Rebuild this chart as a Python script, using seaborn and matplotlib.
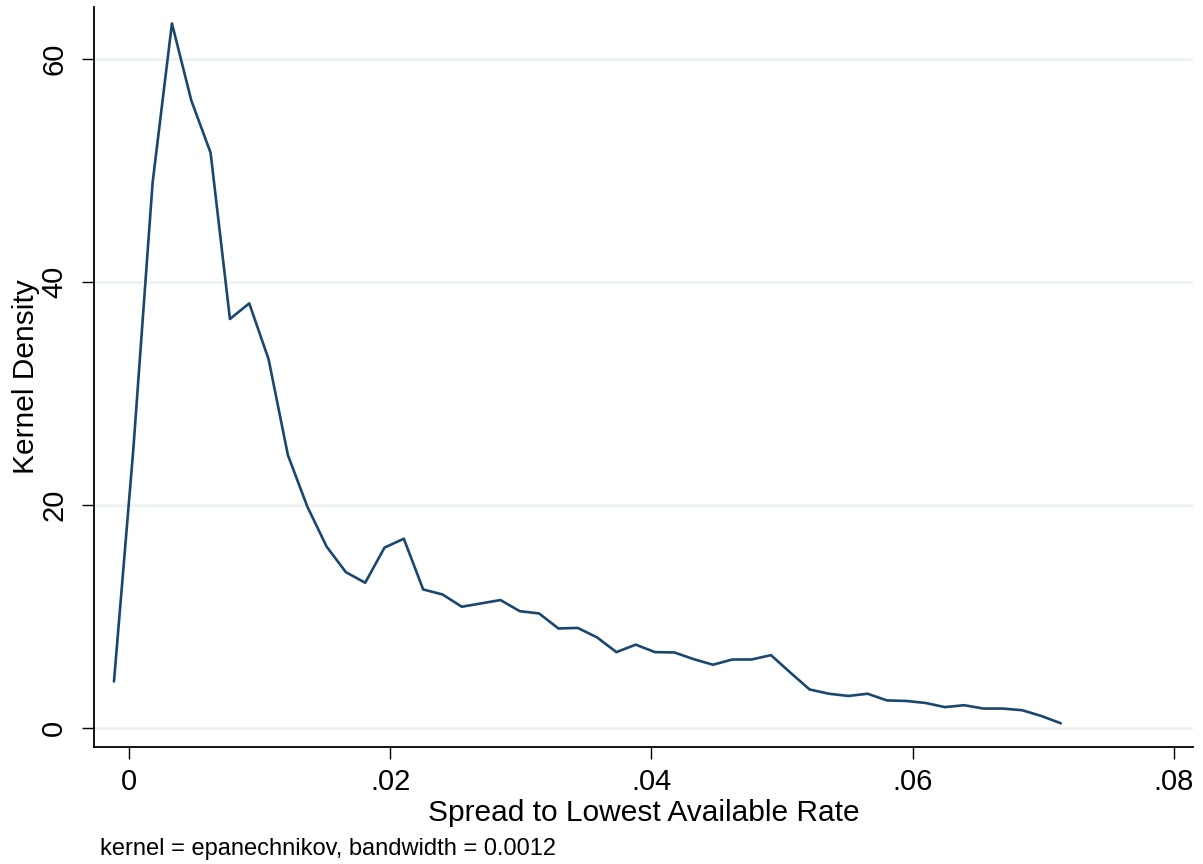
import numpy as np
import pandas as pd
import matplotlib
matplotlib.use("Agg")
import matplotlib.pyplot as plt
import seaborn as sns

# Evaluation grid (50 points, Stata kdensity default)
x_start = -0.00115
x_end = 0.07134
density = [4.2, 25.0, 48.95, 63.2, 56.3, 51.6, 36.7, 38.1, 33.1, 24.5,
           19.9, 16.3, 14.0, 13.05, 16.2, 17.0, 12.45, 12.0, 10.9, 11.2,
           11.5, 10.5, 10.3, 8.95, 9.0, 8.15, 6.83, 7.5, 6.83, 6.8,
           6.2, 5.7, 6.17, 6.17, 6.56, 5.0, 3.48, 3.1, 2.9, 3.1,
           2.5, 2.45, 2.27, 1.9, 2.07, 1.77, 1.77, 1.62, 1.1, 0.45]
x_ticks = [0, 0.02, 0.04, 0.06, 0.08]
x_tick_labels = ["0", ".02", ".04", ".06", ".08"]
y_ticks = [0, 20, 40, 60]
y_tick_labels = ["0", "20", "40", "60"]

spread = np.linspace(x_start, x_end, len(density))
df = pd.DataFrame({"spread": spread, "density": density})

sns.set_theme(style="white")
plt.rcParams['font.family'] = ['Liberation Sans', 'DejaVu Sans']

fig = plt.figure(figsize=(12.03, 8.64), dpi=100)
ax = fig.add_axes([94/1203, 1 - 746.7/864, (1193-94)/1203, (746.7-6.7)/864])

sns.lineplot(data=df, x="spread", y="density", ax=ax, color="#1a476f", linewidth=1.9)

ax.set_xlim(-0.00268, 0.08146)
ax.set_ylim(-1.65, 64.7)
ax.set_xticks(x_ticks)
ax.set_xticklabels(x_tick_labels, fontsize=21)
ax.set_yticks(y_ticks)
ax.set_yticklabels(y_tick_labels, fontsize=21, rotation=90, va="center")
ax.yaxis.grid(True, color="#eaf2f3", linewidth=1.8)
ax.xaxis.grid(False)
ax.set_axisbelow(True)

for s in ["top", "right"]:
    ax.spines[s].set_visible(False)
for s in ["left", "bottom"]:
    ax.spines[s].set_color("black")
    ax.spines[s].set_linewidth(1.3)

ax.tick_params(axis="x", direction="out", length=8.5, width=1, color="black",
               bottom=True, pad=7, labelcolor="black")
ax.tick_params(axis="y", direction="out", length=8.5, width=1, color="black",
               left=True, pad=10, labelcolor="black")

ax.set_xlabel("Spread to Lowest Available Rate", fontsize=21.5, labelpad=2, color="black")
ax.set_ylabel("Kernel Density", fontsize=21.5, labelpad=0, color="black")

fig.text(100/1203, 1 - 849/864, "kernel = epanechnikov, bandwidth = 0.0012",
         fontsize=17, va="center", ha="left", color="black")

fig.savefig("out.png", dpi=100, facecolor="white")
